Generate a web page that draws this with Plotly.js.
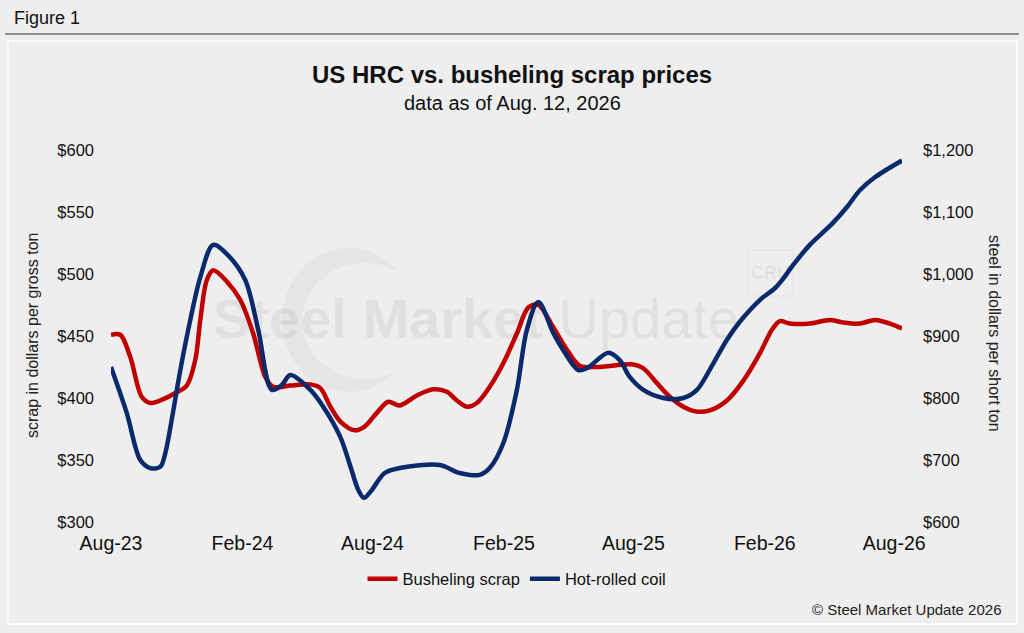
<!DOCTYPE html>
<html>
<head>
<meta charset="utf-8">
<script src="https://cdn.plot.ly/plotly-3.0.1.min.js"></script>
<style>
html,body{margin:0;padding:0;background:#eeeeee;}
#chart{width:1024px;height:633px;}
</style>
</head>
<body>
<div id="chart"></div>
<script>
// Busheling scrap ($ per gross ton, left axis)
const scrapDates = ["2023-08-01","2023-08-14","2023-08-28","2023-09-13","2023-09-25","2023-10-09","2023-10-30","2023-11-15","2023-11-27","2023-12-04","2023-12-13","2023-12-22","2024-01-10","2024-01-29","2024-02-16","2024-03-04","2024-03-15","2024-04-08","2024-05-06","2024-05-20","2024-06-03","2024-06-17","2024-07-07","2024-07-21","2024-08-07","2024-08-23","2024-09-08","2024-10-02","2024-10-25","2024-11-13","2024-11-27","2024-12-11","2024-12-25","2025-01-12","2025-01-31","2025-02-19","2025-03-07","2025-03-21","2025-04-11","2025-04-30","2025-05-18","2025-06-11","2025-08-01","2025-08-15","2025-09-03","2025-09-21","2025-10-10","2025-10-29","2025-11-16","2025-12-10","2026-01-02","2026-01-25","2026-02-11","2026-02-22","2026-03-08","2026-04-05","2026-05-03","2026-05-21","2026-06-14","2026-07-05","2026-07-26","2026-08-12"];
const scrapValues = [451,451,433,401,396,398,404,410,431,463,495,503,494,479,452,417,409,410,411,408,393,381,374,377,388,397,394,402,407,405,398,393,396,409,428,452,473,475,457,439,426,425,427,424,412,401,393,389,390,398,414,436,455,462,460,460,463,461,460,463,460,456];

// Hot-rolled coil ($ per short ton, right axis)
const hrcDates = ["2023-08-01","2023-08-23","2023-09-11","2023-09-25","2023-10-09","2023-10-16","2023-10-25","2023-11-06","2023-11-20","2023-12-04","2023-12-22","2024-01-12","2024-02-05","2024-02-23","2024-03-13","2024-03-27","2024-04-08","2024-05-06","2024-05-24","2024-06-17","2024-07-01","2024-07-12","2024-07-20","2024-07-30","2024-08-18","2024-09-08","2024-11-03","2024-12-01","2024-12-29","2025-01-12","2025-01-31","2025-02-19","2025-03-05","2025-03-21","2025-04-11","2025-04-25","2025-05-16","2025-05-28","2025-06-27","2025-07-13","2025-07-27","2025-08-15","2025-09-12","2025-10-10","2025-10-29","2025-11-21","2025-12-10","2025-12-28","2026-01-25","2026-02-15","2026-02-25","2026-03-13","2026-04-05","2026-05-07","2026-05-27","2026-06-14","2026-07-05","2026-08-12"];
const hrcValues = [850,776,700,687,689,711,765,845,926,995,1047,1030,990,910,813,821,837,813,786,737,690,652,639,650,679,687,692,679,676,687,727,813,910,955,905,877,845,848,873,861,834,813,800,800,813,856,894,923,958,977,990,1015,1047,1082,1108,1135,1156,1183];

const seriesNames = ["Busheling scrap","Hot-rolled coil"];
const seriesColors = ["#c00000","#0a2a6c"];

const xTickVals = ["2023-08-01","2024-02-01","2024-08-01","2025-02-01","2025-08-01","2026-02-01","2026-08-01"];
const xTickText = ["Aug-23","Feb-24","Aug-24","Feb-25","Aug-25","Feb-26","Aug-26"];
const xRange = ["2023-08-01","2026-08-12"];

const leftTicks = [300,350,400,450,500,550,600];
const leftTickText = ["$300","$350","$400","$450","$500","$550","$600"];
const rightTicks = [600,700,800,900,1000,1100,1200];
const rightTickText = ["$600","$700","$800","$900","$1,000","$1,100","$1,200"];

const titleText = "US HRC vs. busheling scrap prices";
const subtitleText = "data as of Aug. 12, 2026";
const figureLabel = "Figure 1";
const leftAxisTitle = "scrap in dollars per gross ton";
const rightAxisTitle = "steel in dollars per short ton";
const sourceText = "© Steel Market Update 2026";

const FONT = "Liberation Sans, Arial, Helvetica, sans-serif";
const W = 1024, H = 633;
const L = 111, R = 902, T = 150, B = 522;
const px = x => (x - L) / (R - L);
const py = y => (B - y) / (B - T);

const traces = [
  {x: scrapDates, y: scrapValues, name: seriesNames[0], type: "scatter", mode: "lines",
   line: {color: seriesColors[0], width: 4.5, shape: "spline", smoothing: 0.9}, yaxis: "y"},
  {x: hrcDates, y: hrcValues, name: seriesNames[1], type: "scatter", mode: "lines",
   line: {color: seriesColors[1], width: 4.5, shape: "spline", smoothing: 0.9}, yaxis: "y2"}
];

const layout = {
  width: W, height: H, autosize: false,
  margin: {l: L, r: W - R, t: T, b: H - B, pad: 0},
  paper_bgcolor: "#eeeeee", plot_bgcolor: "rgba(0,0,0,0)",
  font: {family: FONT, color: "#111111"},
  showlegend: true,
  legend: {orientation: "h", x: px(517), xanchor: "center", y: py(579), yanchor: "middle",
           font: {size: 16.5, family: FONT, color: "#111"}, bgcolor: "rgba(0,0,0,0)",
           itemwidth: 30, tracegroupgap: 0},
  xaxis: {type: "date", range: xRange, tickmode: "array", tickvals: xTickVals, ticktext: xTickText,
          showgrid: false, zeroline: false, showline: false, ticks: "", ticklabelstandoff: 7,
          tickfont: {size: 19.5, family: FONT, color: "#111"}, fixedrange: true},
  yaxis: {range: [300, 600], tickmode: "array", tickvals: leftTicks, ticktext: leftTickText,
          showgrid: false, zeroline: false, showline: false, ticks: "", ticklabelstandoff: 16,
          tickfont: {size: 16.5, family: FONT, color: "#111"}},
  yaxis2: {range: [600, 1200], overlaying: "y", side: "right", tickmode: "array", tickvals: rightTicks,
           ticktext: rightTickText, showgrid: false, zeroline: false, showline: false, ticks: "",
           ticklabelstandoff: 20, tickfont: {size: 16.5, family: FONT, color: "#111"}},
  shapes: [
    {type: "line", xref: "paper", yref: "paper", x0: px(5), x1: px(1019), y0: py(34), y1: py(34),
     line: {color: "#333333", width: 1.2}, layer: "below"},
    {type: "rect", xref: "paper", yref: "paper", x0: px(8), x1: px(1017), y0: py(41), y1: py(624),
     line: {color: "#ffffff", width: 1.5}, fillcolor: "rgba(0,0,0,0)", layer: "below"},
    // watermark ring
    {type: "circle", xref: "paper", yref: "paper", x0: px(282), x1: px(416), y0: py(248), y1: py(392),
     line: {width: 0}, fillcolor: "#e5e5e5", layer: "below"},
    {type: "circle", xref: "paper", yref: "paper", x0: px(302), x1: px(428), y0: py(263), y1: py(379),
     line: {width: 0}, fillcolor: "#eeeeee", layer: "below"},
    // CRU box
    {type: "rect", xref: "paper", yref: "paper", x0: px(748), x1: px(793), y0: py(250), y1: py(296),
     line: {color: "#e2e2e2", width: 1}, fillcolor: "rgba(0,0,0,0)", layer: "below"}
  ],
  annotations: [
    {text: figureLabel, xref: "paper", yref: "paper", x: px(12), y: py(18), xanchor: "left", yanchor: "middle",
     showarrow: false, font: {size: 18, family: FONT, color: "#111"}},
    {text: "<b>" + titleText + "</b>", xref: "paper", yref: "paper", x: px(512), y: py(75), xanchor: "center",
     yanchor: "middle", showarrow: false, font: {size: 24, family: FONT, color: "#111"}},
    {text: subtitleText, xref: "paper", yref: "paper", x: px(512), y: py(103), xanchor: "center",
     yanchor: "middle", showarrow: false, font: {size: 20, family: FONT, color: "#111"}},
    {text: leftAxisTitle, xref: "paper", yref: "paper", x: px(32), y: py(336), textangle: -90,
     xanchor: "center", yanchor: "middle", showarrow: false, font: {size: 16, family: FONT, color: "#222"}},
    {text: rightAxisTitle, xref: "paper", yref: "paper", x: px(995), y: py(333), textangle: 90,
     xanchor: "center", yanchor: "middle", showarrow: false, font: {size: 16, family: FONT, color: "#222"}},
    {text: sourceText, xref: "paper", yref: "paper", x: px(1004), y: py(609), xanchor: "right",
     yanchor: "middle", showarrow: false, font: {size: 15, family: FONT, color: "#222"}},
    {text: "<b>Steel Market</b> Update", xref: "paper", yref: "paper", x: px(476), y: py(318),
     xanchor: "center", yanchor: "middle", showarrow: false, font: {size: 56, family: FONT, color: "rgba(0,0,0,0.055)"}},
    {text: "<b>CRU</b>", xref: "paper", yref: "paper", x: px(770), y: py(273),
     xanchor: "center", yanchor: "middle", showarrow: false, font: {size: 18, family: FONT, color: "rgba(0,0,0,0.06)"}}
  ]
};

Plotly.newPlot("chart", traces, layout, {staticPlot: true, displayModeBar: false});
</script>
</body>
</html>
